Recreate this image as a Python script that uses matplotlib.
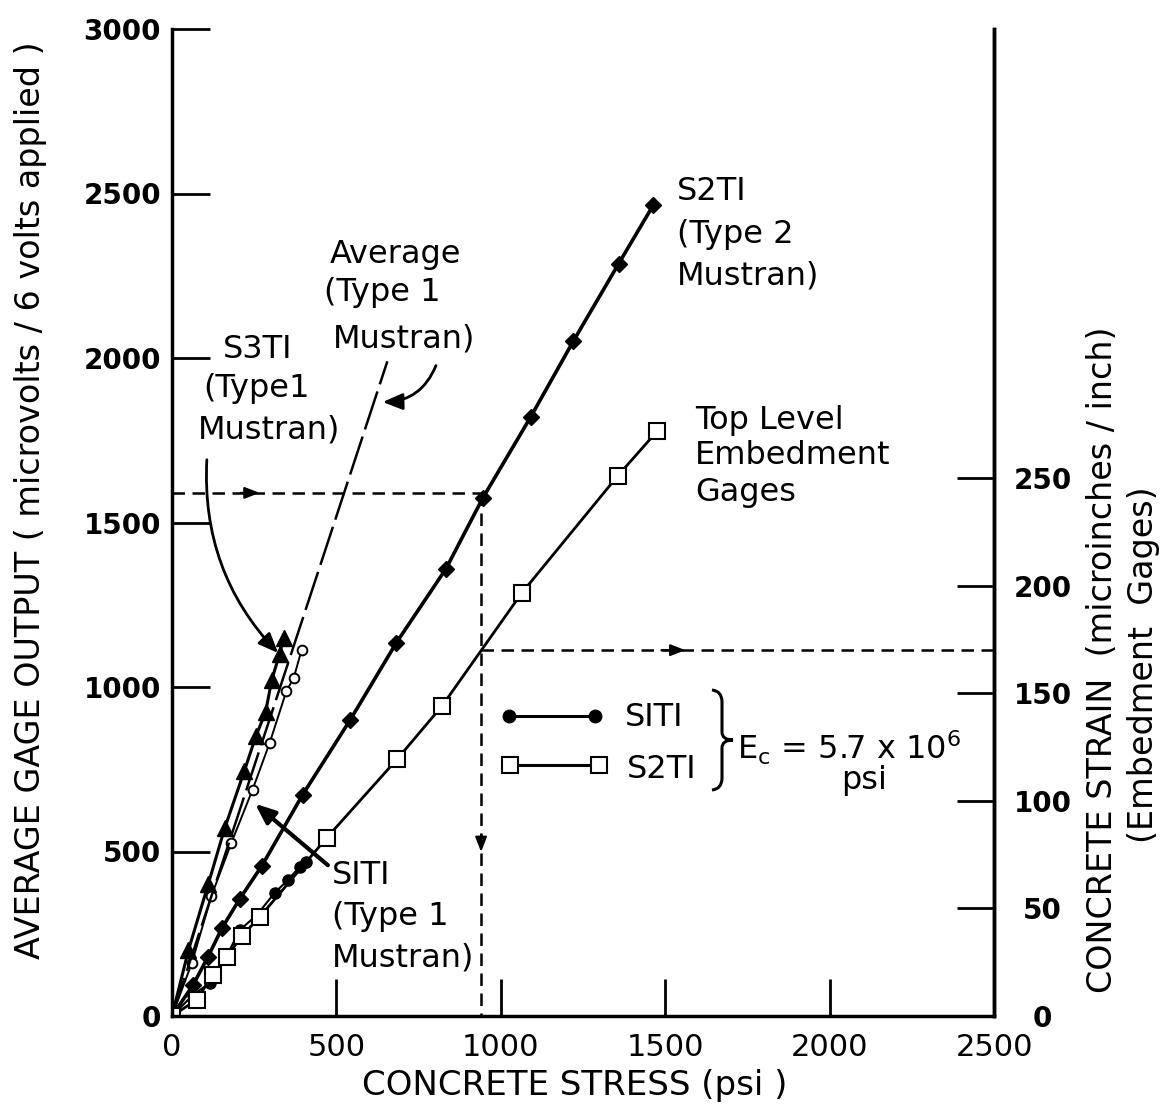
import matplotlib.pyplot as plt
from matplotlib.patches import FancyArrowPatch, PathPatch
from matplotlib.path import Path

# concrete stress (psi) vs average gage output (microvolts)
s2t1_x = [0, 64, 109, 152, 206, 273, 397, 542, 682, 833, 945, 1091, 1221, 1358, 1464]
s2t1_y = [0, 94, 179, 267, 356, 456, 672, 900, 1134, 1359, 1574, 1821, 2052, 2286, 2465]

s3t1_x = [0, 50, 110, 160, 220, 255, 285, 303, 327, 340]
s3t1_y = [0, 200, 400, 570, 745, 850, 925, 1020, 1100, 1150]

s1t1_x = [0, 60, 120, 180, 245, 297, 348, 370, 394]
s1t1_y = [0, 160, 365, 525, 688, 830, 988, 1027, 1112]

avg_x = [0, 655]
avg_y = [0, 1990]

# embedment gages
emb1_x = [0, 65, 115, 165, 206, 258, 312, 352, 388, 409]
emb1_y = [0, 65, 100, 180, 261, 307, 374, 413, 453, 468]

emb2_x = [0, 75, 124, 166, 212, 267, 470, 685, 821, 1064, 1355, 1476]
emb2_y = [0, 49, 125, 179, 243, 301, 541, 781, 942, 1286, 1641, 1778]

uv_per_strain = 6.54

W, H = 1163, 1111
fig = plt.figure(figsize=(W / 100, H / 100), dpi=100)
ax = fig.add_axes([172 / W, 1 - 1016 / H, 822 / W, 987 / H])

ax.plot(s2t1_x, s2t1_y, color='black', lw=2.6, marker='D', ms=8, mfc='black', mec='black')
ax.plot(s3t1_x, s3t1_y, color='black', lw=2.2, marker='^', ms=11, mfc='black', mec='black')
ax.plot(s1t1_x, s1t1_y, color='black', lw=1.4, marker='o', ms=7, mfc='white', mec='black', mew=1.4)
ax.plot(avg_x, avg_y, color='black', lw=1.8, dashes=(16, 3))
ax.plot(emb1_x, emb1_y, color='black', lw=1.5, marker='o', ms=8, mfc='black', mec='black')
ax.plot(emb2_x, emb2_y, color='black', lw=2.0, marker='s', ms=11, mfc='white', mec='black', mew=1.5)

# dashed read-off lines
ax.plot([0, 940], [1590, 1590], color='black', lw=1.8, dashes=(5, 3))
ax.plot([940, 940], [1590, 0], color='black', lw=1.8, dashes=(5, 3))
ax.plot([940, 2500], [1112, 1112], color='black', lw=1.8, dashes=(5, 3))
for (x0, y0), (x1, y1) in [((200, 1590), (275, 1590)),
                           ((940, 560), (940, 490)),
                           ((1480, 1112), (1570, 1112))]:
    ax.annotate('', xy=(x1, y1), xytext=(x0, y0),
                arrowprops=dict(arrowstyle='-|>,head_width=0.35,head_length=0.9',
                                color='black', lw=1.5))

ax.set_xlim(0, 2500)
ax.set_ylim(0, 3000)
ax.set_xticks(range(0, 2501, 500))
ax.set_yticks(range(0, 3001, 500))
ax.tick_params(direction='in', length=27, width=2, pad=8)
ax.tick_params(axis='x', labelsize=22, pad=12)
ax.tick_params(axis='y', labelsize=20)
for lab in ax.get_yticklabels():
    lab.set_fontweight('bold')
for side in ['left', 'bottom', 'right']:
    ax.spines[side].set_linewidth(2.5)
ax.spines['top'].set_visible(False)

ax2 = ax.twinx()
ax2.set_ylim(0, 3000 / uv_per_strain)
ax2.set_yticks(range(0, 251, 50))
ax2.tick_params(direction='in', length=27, width=2, labelsize=20, pad=35)
for lab in ax2.get_yticklabels():
    lab.set_fontweight('bold')
    lab.set_horizontalalignment('center')
ax2.spines['top'].set_visible(False)
ax2.spines['right'].set_linewidth(2.5)

fig.text(31 / W, 1 - 500 / H, 'AVERAGE GAGE OUTPUT ( microvolts / 6 volts applied )',
         rotation=90, ha='center', va='center', fontsize=24)
fig.text(575 / W, 1 - 1085 / H, 'CONCRETE STRESS (psi )',
         ha='center', va='center', fontsize=24.5)
fig.text(1102 / W, 1 - 660 / H, 'CONCRETE STRAIN  (microinches / inch)',
         rotation=90, ha='center', va='center', fontsize=24)
fig.text(1143 / W, 1 - 665 / H, '(Embedment  Gages)',
         rotation=90, ha='center', va='center', fontsize=24)


def label(px, py, s, ha='left', size=23):
    fig.text(px / W, 1 - py / H, s, ha=ha, va='center', fontsize=size)


for py, s in [(192, 'S2TI'), (235, '(Type 2'), (276, 'Mustran)')]:
    label(677, py, s)
for px, py, s in [(396, 254, 'Average'), (382, 292, '(Type 1'), (404, 339, 'Mustran)')]:
    label(px, py, s, ha='center')
for px, py, s in [(258, 350, 'S3TI'), (256, 388, '(Type1'), (269, 430, 'Mustran)')]:
    label(px, py, s, ha='center')
for py, s in [(420, 'Top Level'), (456, 'Embedment'), (492, 'Gages')]:
    label(695, py, s)
for py, s in [(876, 'SITI'), (917, '(Type 1'), (958, 'Mustran)')]:
    label(332, py, s)

# legend drawn by hand
ax.plot([1024, 1285], [912, 912], color='black', lw=2.2, marker='o', ms=9)
ax.plot([1027, 1300], [762, 762], color='black', lw=2.2, marker='s', ms=11, mfc='white', mew=1.5)
label(625, 717, 'SITI')
label(627, 769, 'S2TI')
label(737, 748, r'E$_{\mathregular{c}}$ = 5.7 x 10$^{\mathregular{6}}$')
label(864, 780, 'psi', ha='center')


def fig_pt(px, py):
    return (px / W, 1 - py / H)


# right curly brace joining the two legend entries
brace_pts = [(712, 690), (722, 691), (722, 702), (722, 732), (722, 740), (733, 740),
             (722, 740), (722, 748), (722, 778), (722, 789), (712, 790)]
brace_codes = [Path.MOVETO, Path.CURVE3, Path.CURVE3, Path.LINETO, Path.CURVE3, Path.CURVE3,
               Path.CURVE3, Path.CURVE3, Path.LINETO, Path.CURVE3, Path.CURVE3]
brace = PathPatch(Path([fig_pt(*p) for p in brace_pts], brace_codes),
                  transform=fig.transFigure, fill=False, lw=2.2, color='black')
fig.patches.append(brace)


# curved leader arrows
def leader(p0, p1, rad, lw=2.0):
    a = FancyArrowPatch(fig_pt(*p0), fig_pt(*p1),
                        transform=fig.transFigure, connectionstyle=f'arc3,rad={rad}',
                        arrowstyle='-|>,head_width=5,head_length=12', color='black', lw=lw,
                        mutation_scale=1)
    fig.patches.append(a)


leader((207, 457), (280, 655), 0.22)
leader((437, 363), (380, 402), -0.35)
leader((330, 867), (253, 802), 0.0, lw=3)

fig.savefig('out.png', dpi=100)
